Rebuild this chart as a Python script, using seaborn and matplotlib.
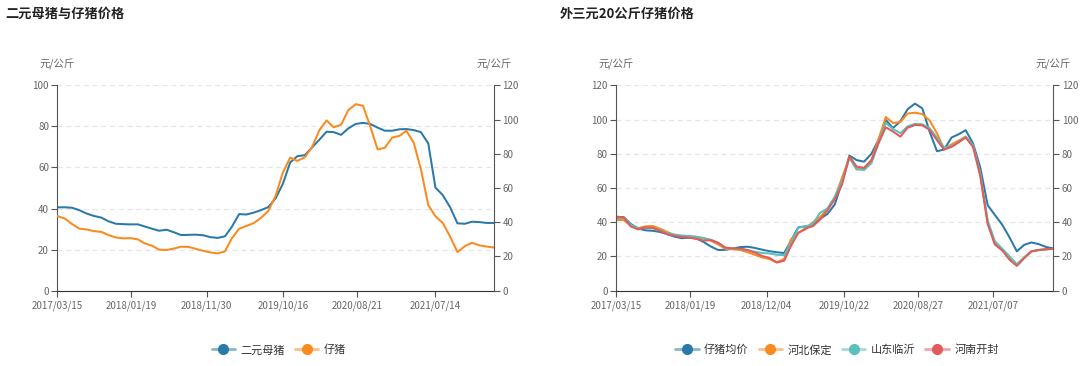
import matplotlib
matplotlib.use("Agg")
import matplotlib.pyplot as plt
import matplotlib.dates as mdates
from matplotlib.lines import Line2D
import matplotlib.colors as mcolors
import pandas as pd
import seaborn as sns

# ---- data (monthly readings, mid-month) ----
dates_left = list(pd.date_range("2017-03-01", "2022-02-01", freq="MS") + pd.Timedelta(days=14)) + [pd.Timestamp("2022-03-18")]
dates_right = list(pd.date_range("2017-03-01", "2022-02-01", freq="MS") + pd.Timedelta(days=14)) + [pd.Timestamp("2022-03-17")]

sow_price = [40.6, 40.6, 40.4, 39.2, 37.6, 36.4, 35.6, 33.8, 32.6, 32.4,
             32.3, 32.3, 31.3, 30.2, 29.2, 29.7, 28.5, 27.1, 27.2, 27.3, 27.0, 26.1,
             25.7, 26.5, 31.0, 37.3, 37.1, 38.0, 39.2, 40.7, 45.0, 52.0, 62.5, 65.5,
             66.0, 69.8, 73.4, 77.4, 77.2, 75.9, 79.0, 81.2, 81.7, 81.2, 79.4, 77.9,
             77.9, 78.6, 78.7, 78.2, 77.2, 71.7, 50.2, 46.5, 40.5, 32.8, 32.6, 33.6,
             33.4, 33.0, 33.0]
piglet_price = [43.6, 42.2, 39.0, 36.3, 35.8, 34.8, 34.4, 32.5, 31.1, 30.6,
                30.7, 30.0, 27.7, 26.3, 24.0, 23.8, 24.6, 25.7, 25.6, 24.5, 23.3, 22.4,
                21.8, 23.0, 30.5, 36.2, 37.8, 39.5, 42.5, 46.5, 55.5, 69.0, 77.8, 75.8,
                78.0, 84.0, 93.5, 99.5, 95.5, 97.0, 105.5, 109.0, 108.0, 96.0, 82.5, 83.5,
                89.5, 90.5, 93.5, 86.5, 71.0, 50.0, 43.5, 39.5, 31.5, 22.6, 26.0, 28.0,
                26.5, 25.8, 25.2]

avg_price = [43.2, 43.0, 39.0, 36.3, 35.3, 35.0, 34.3, 33.0, 31.5, 30.7,
             31.0, 30.4, 28.5, 25.8, 23.8, 23.9, 24.6, 25.5, 25.7, 25.0, 24.0, 23.1,
             22.5, 22.0, 29.0, 37.0, 37.6, 38.2, 42.0, 44.8, 50.5, 63.5, 79.0, 76.3,
             75.4, 80.0, 88.0, 99.8, 95.0, 99.0, 106.0, 109.3, 106.5, 93.0, 81.5, 82.5,
             89.5, 91.5, 93.8, 86.0, 72.0, 50.0, 44.3, 38.5, 31.0, 23.0, 26.8, 28.2,
             27.2, 25.5, 24.7]
hebei_price = [41.3, 41.3, 38.0, 36.6, 37.6, 37.8, 36.2, 34.3, 32.4, 32.0,
               31.8, 31.4, 30.6, 29.2, 27.0, 24.4, 24.2, 23.8, 22.5, 21.0, 19.5, 18.5,
               16.6, 18.5, 30.0, 33.9, 35.8, 40.0, 43.0, 47.5, 54.5, 66.0, 78.0, 70.8,
               71.5, 76.5, 88.0, 101.5, 98.0, 98.5, 103.5, 104.0, 103.2, 99.5, 92.0, 82.8,
               85.5, 87.8, 90.0, 84.5, 68.0, 40.0, 27.5, 24.0, 19.0, 15.0, 19.5, 23.0,
               23.8, 24.2, 24.5]
shandong_price = [42.5, 42.5, 38.5, 36.5, 36.5, 36.5, 35.3, 33.5, 32.8, 32.2,
                  32.0, 31.5, 30.8, 29.8, 28.0, 25.0, 24.5, 24.3, 23.6, 22.8, 22.0, 21.8,
                  21.0, 20.8, 27.5, 36.8, 37.5, 39.0, 45.5, 48.0, 55.0, 64.0, 77.5, 71.0,
                  70.5, 74.5, 86.0, 98.0, 94.5, 92.0, 96.0, 97.5, 97.2, 95.0, 89.5, 83.5,
                  84.5, 87.0, 90.0, 85.0, 68.5, 41.0, 29.0, 24.5, 20.0, 15.5, 19.5, 23.0,
                  23.8, 24.2, 24.5]
henan_price = [43.2, 42.8, 37.5, 35.8, 37.0, 36.8, 35.0, 33.0, 32.0, 31.4,
               31.0, 30.3, 29.3, 29.5, 28.0, 25.2, 24.7, 24.6, 23.8, 22.3, 20.3, 19.2,
               16.5, 17.5, 26.0, 33.7, 36.4, 37.7, 41.5, 47.0, 53.5, 62.0, 78.5, 72.5,
               71.8, 76.0, 86.0, 95.5, 93.0, 90.0, 95.2, 96.8, 96.6, 94.0, 88.0, 82.5,
               84.0, 86.8, 89.5, 84.0, 67.0, 39.0, 27.0, 23.5, 18.0, 14.5, 19.0, 23.0,
               23.8, 24.2, 24.5]

ticks_left = ["2017/03/15", "2018/01/19", "2018/11/30", "2019/10/16", "2020/08/21", "2021/07/14"]
ticks_right = ["2017/03/15", "2018/01/19", "2018/12/04", "2019/10/22", "2020/08/27", "2021/07/07"]

BLUE, ORANGE, TEAL, RED = "#2a79a8", "#fb8a1e", "#5bbfbd", "#e25b5b"
GRID, TICK, AXIS = "#e6e6e6", "#666666", "#555555"

sns.set_style("white")
plt.rcParams["font.family"] = ["Noto Sans CJK SC", "DejaVu Sans"]

fig = plt.figure(figsize=(10.8, 3.66), dpi=100)
ax_l = fig.add_axes([0.0531, 0.2057, 0.4045, 0.5612])
ax_r = fig.add_axes([0.5706, 0.2057, 0.4048, 0.5612])

df_left = pd.DataFrame({"date": dates_left, "sow": sow_price, "piglet": piglet_price})
df_right = pd.DataFrame({"date": dates_right, "avg": avg_price, "hebei": hebei_price,
                         "shandong": shandong_price, "henan": henan_price})


def style_axes(ax, ax2, ticks, ylim_l, ylim_r, yt_l, yt_r, start, end):
    ax.set_xlim(pd.Timestamp(start), pd.Timestamp(end))
    ax.set_ylim(*ylim_l)
    ax2.set_ylim(*ylim_r)
    ax.set_yticks(yt_l)
    ax2.set_yticks(yt_r)
    ax.set_xticks([pd.Timestamp(t.replace("/", "-")) for t in ticks])
    ax.xaxis.set_major_formatter(mdates.DateFormatter("%Y/%m/%d"))
    ax.set_xlabel("")
    ax.set_ylabel("")
    ax2.set_ylabel("")
    ax.grid(axis="y", color=GRID, linestyle=(0, (4, 3)), linewidth=0.9)
    ax.grid(axis="x", visible=False)
    ax2.grid(False)
    for a in (ax, ax2):
        a.spines["top"].set_visible(False)
        a.spines["left"].set_color(AXIS)
        a.spines["right"].set_color(AXIS)
        a.spines["bottom"].set_color("#333333")
        a.tick_params(axis="both", labelsize=7, colors=AXIS, labelcolor=TICK,
                      length=4, width=0.8, pad=2)
    ax.spines["right"].set_visible(False)
    ax2.spines["left"].set_visible(False)
    ax2.spines["bottom"].set_visible(False)
    ax.tick_params(axis="y", left=True)
    ax.tick_params(axis="x", bottom=True, pad=3)
    ax2.tick_params(axis="y", right=True)


# left chart
ax_l2 = ax_l.twinx()
sns.lineplot(data=df_left, x="date", y="sow", ax=ax_l, color=BLUE, linewidth=1.45)
sns.lineplot(data=df_left, x="date", y="piglet", ax=ax_l2, color=ORANGE, linewidth=1.45)
style_axes(ax_l, ax_l2, ticks_left, (0, 100), (0, 120), range(0, 101, 20), range(0, 121, 20),
           "2017-03-15", "2022-03-18")

# right chart
ax_r2 = ax_r.twinx()
sns.lineplot(data=df_right, x="date", y="avg", ax=ax_r, color=BLUE, linewidth=1.45)
sns.lineplot(data=df_right, x="date", y="hebei", ax=ax_r, color=ORANGE, linewidth=1.45)
sns.lineplot(data=df_right, x="date", y="shandong", ax=ax_r, color=TEAL, linewidth=1.45)
sns.lineplot(data=df_right, x="date", y="henan", ax=ax_r, color=RED, linewidth=1.45)
style_axes(ax_r, ax_r2, ticks_right, (0, 120), (0, 120), range(0, 121, 20), range(0, 121, 20),
           "2017-03-15", "2022-03-17")

# titles and units
fig.text(5 / 1080, 1 - 14 / 366, "二元母猪与仔猪价格", fontsize=9.5, fontweight="bold",
         color="#222222", va="center", ha="left")
fig.text(560 / 1080, 1 - 14 / 366, "外三元20公斤仔猪价格", fontsize=9.5, fontweight="bold",
         color="#222222", va="center", ha="left")
for xpix in (57, 494, 616, 1053):
    fig.text(xpix / 1080, 1 - 64 / 366, "元/公斤", fontsize=7.5, color=TICK, ha="center", va="center")


def handle(c):
    light = mcolors.to_rgba(c, 0.55)
    return Line2D([], [], color=light, linewidth=2, marker="o", markersize=7,
                  markerfacecolor=c, markeredgecolor=c)


leg_kw = dict(frameon=False, ncol=4, fontsize=8, handlelength=2.1, handletextpad=0.5,
              columnspacing=0.9, loc="center", labelcolor="#333333")
fig.legend([handle(BLUE), handle(ORANGE)], ["二元母猪", "仔猪"],
           bbox_to_anchor=(279 / 1080, 1 - 350 / 366), **leg_kw)
fig.legend([handle(BLUE), handle(ORANGE), handle(TEAL), handle(RED)],
           ["仔猪均价", "河北保定", "山东临沂", "河南开封"],
           bbox_to_anchor=(837 / 1080, 1 - 350 / 366), **leg_kw)

fig.savefig("out.png", dpi=100)
